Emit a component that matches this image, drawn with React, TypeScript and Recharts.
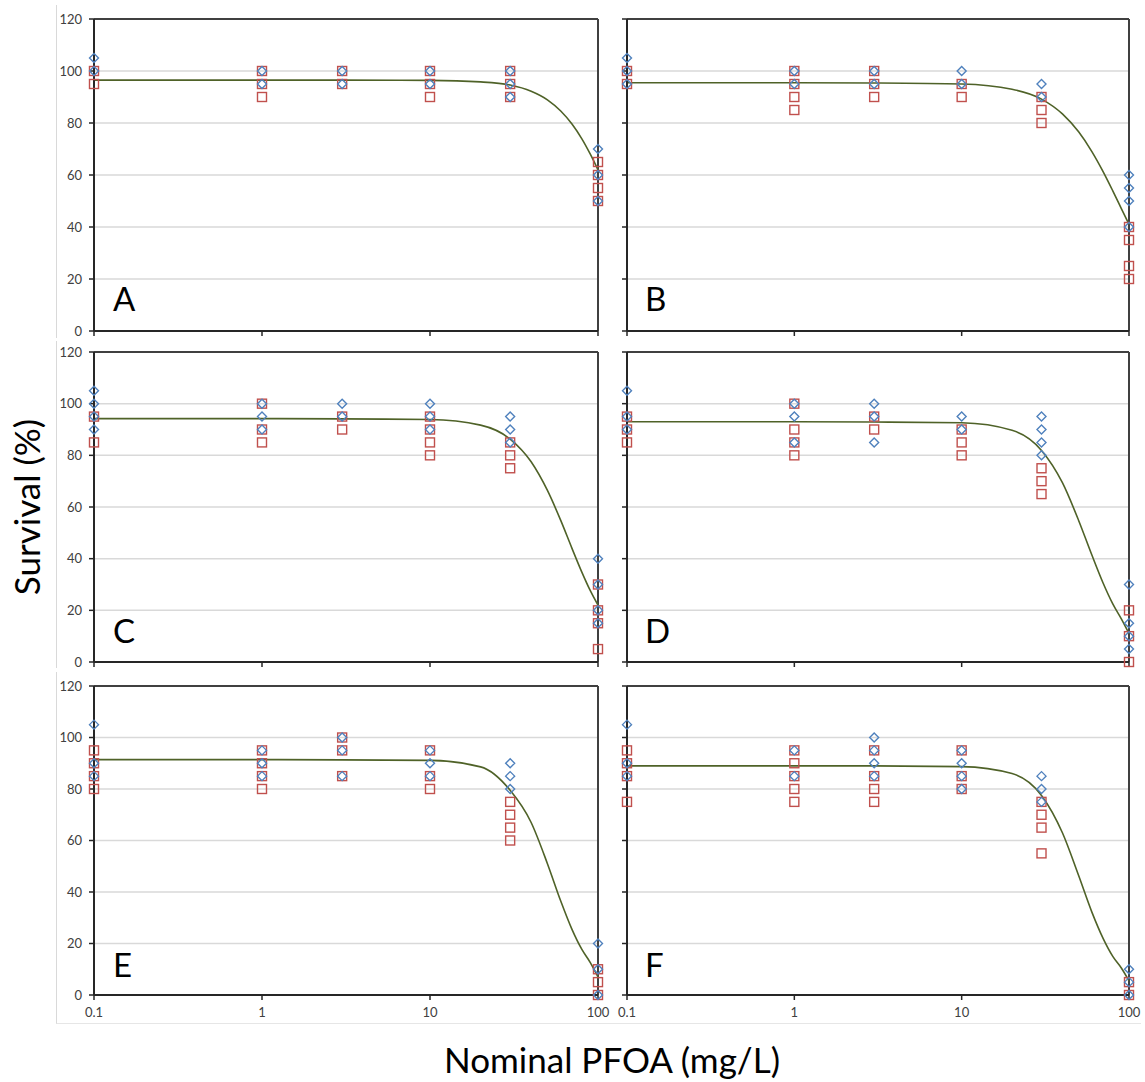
import { CartesianGrid, ComposedChart, Line, ReferenceLine, Scatter, XAxis, YAxis } from "recharts";

// dose groups and fitted-curve sample points (mg/L)
const doses = [0.1, 1, 3, 10, 30, 100];
const curveDoses = [0.1, 1, 3, 10, 20, 30, 40, 50, 60, 70, 80, 90, 100];
const xTicks = [0.1, 1, 10, 100];
const yTicks = [0, 20, 40, 60, 80, 100, 120];

// survival (%) per dose group: blue diamonds / red squares
const blueA = [[105, 100], [100, 95], [100, 95], [100, 95], [100, 95, 90], [70, 60, 50]];
const redA = [[100, 95], [100, 95, 90], [100, 95], [100, 95, 90], [100, 95, 90], [65, 60, 55, 50]];
const curveA = [96.5, 96.5, 96.5, 96.4, 95.8, 94.6, 92.2, 88.9, 84.6, 79.6, 74.0, 68.0, 62.0];

const blueB = [[105, 100, 95], [100, 95], [100, 95], [100, 95], [95, 90], [60, 55, 50, 40]];
const redB = [[100, 95], [100, 95, 90, 85], [100, 95, 90], [95, 90], [90, 85, 80], [40, 35, 25, 20]];
const curveB = [95.5, 95.5, 95.4, 95.0, 93.0, 89.2, 83.5, 76.6, 69.0, 61.3, 53.9, 47.1, 41.0];

const blueC = [[105, 100, 95, 90], [100, 95, 90], [100, 95], [100, 95, 90], [95, 90, 85], [40, 30, 20, 15]];
const redC = [[95, 85], [100, 90, 85], [95, 90], [95, 90, 85, 80], [85, 80, 75], [30, 20, 15, 5]];
const curveC = [94.2, 94.2, 94.1, 93.9, 91.7, 86.3, 77.5, 66.4, 54.8, 44.0, 34.9, 27.6, 22.0];

const blueD = [[105, 95, 90], [100, 95, 85], [100, 95, 85], [95, 90], [95, 90, 85, 80], [30, 15, 10, 5]];
const redD = [[95, 90, 85], [100, 90, 85, 80], [95, 90], [90, 85, 80], [75, 70, 65], [20, 10, 0]];
const curveD = [93.0, 93.0, 92.9, 92.6, 89.7, 81.9, 69.4, 54.8, 41.4, 30.6, 22.5, 16.7, 11.0];

const blueE = [[105, 90, 85], [95, 90, 85], [100, 95, 85], [95, 90, 85], [90, 85, 80], [20, 10, 0]];
const redE = [[95, 90, 85, 80], [95, 90, 85, 80], [100, 95, 85], [95, 85, 80], [75, 70, 65, 60], [10, 5, 0]];
const curveE = [91.4, 91.4, 91.3, 91.1, 88.6, 79.5, 67.0, 51.0, 36.5, 25.5, 17.8, 12.6, 7.0];

const blueF = [[105, 90, 85], [95, 85], [100, 95, 90, 85], [95, 90, 85, 80], [85, 80, 75], [10, 5, 0]];
const redF = [[95, 90, 85, 75], [95, 90, 85, 80, 75], [95, 85, 80, 75], [95, 85, 80], [75, 70, 65, 55], [5, 0]];
const curveF = [89.0, 89.0, 89.0, 88.7, 86.0, 77.5, 63.0, 46.4, 32.2, 22.0, 15.0, 10.5, 5.5];

const BLUE = "#4f81bd";
const RED = "#c0504d";
const GREEN = "#4f6228";
const FONT = "Lato, 'Open Sans', sans-serif";

const toPoints = (groups: number[][]) => groups.flatMap((ys, i) => ys.map((y) => ({ x: doses[i], y })));
const toCurve = (ys: number[]) => ys.map((y, i) => ({ x: curveDoses[i], y }));

const Diamond = (p: any) => {
  const { cx, cy } = p;
  const r = 4.5;
  return (
    <path
      d={`M${cx},${cy - r}L${cx + r},${cy}L${cx},${cy + r}L${cx - r},${cy}Z`}
      fill="none"
      stroke={BLUE}
      strokeWidth={1.4}
    />
  );
};

const Square = (p: any) => (
  <rect x={p.cx - 4.5} y={p.cy - 4.5} width={9} height={9} fill="none" stroke={RED} strokeWidth={1.4} />
);

const noTick = () => <g />;

interface PanelProps {
  plotLeft: number;
  plotTop: number;
  plotWidth: number;
  plotHeight: number;
  showY: boolean;
  showX: boolean;
  blue: number[][];
  red: number[][];
  curve: number[];
}

const M_TOP = 12;
const M_RIGHT = 15;
const Y_W = 44;

const Panel = ({ plotLeft, plotTop, plotWidth, plotHeight, showY, showX, blue, red, curve }: PanelProps) => {
  const xH = showX ? 30 : 10;
  const tickStyle = { fill: "#404040", fontSize: 13, fontFamily: FONT };
  return (
    <div style={{ position: "absolute", left: plotLeft - Y_W, top: plotTop - M_TOP }}>
      <ComposedChart
        width={Y_W + plotWidth + M_RIGHT}
        height={M_TOP + plotHeight + xH}
        margin={{ top: M_TOP, right: M_RIGHT, left: 0, bottom: 0 }}
      >
        <CartesianGrid vertical={false} stroke="#d9d9d9" strokeWidth={1.5} />
        <XAxis
          dataKey="x"
          type="number"
          scale="log"
          domain={[0.1, 100]}
          ticks={xTicks}
          interval={0}
          tickFormatter={(v) => String(v)}
          tick={showX ? tickStyle : noTick}
          tickSize={5}
          tickMargin={8}
          height={xH}
          axisLine={{ stroke: "#262626", strokeWidth: 2 }}
          tickLine={{ stroke: "#262626", strokeWidth: 1.5 }}
        />
        <YAxis
          dataKey="y"
          type="number"
          domain={[0, 120]}
          ticks={yTicks}
          interval={0}
          width={Y_W}
          tick={showY ? tickStyle : noTick}
          tickSize={5}
          tickMargin={7}
          axisLine={{ stroke: "#262626", strokeWidth: 2 }}
          tickLine={{ stroke: "#262626", strokeWidth: 1.5 }}
        />
        <ReferenceLine y={120} stroke="#404040" strokeWidth={2} />
        <ReferenceLine x={100} stroke="#404040" strokeWidth={2} />
        <Line
          data={toCurve(curve)}
          dataKey="y"
          type="monotone"
          stroke={GREEN}
          strokeWidth={1.6}
          dot={false}
          activeDot={false}
          isAnimationActive={false}
        />
        <Scatter data={toPoints(red)} dataKey="y" shape={Square} isAnimationActive={false} />
        <Scatter data={toPoints(blue)} dataKey="y" shape={Diamond} isAnimationActive={false} />
      </ComposedChart>
    </div>
  );
};

const letters = [
  { t: "A", x: 113, y: 311 },
  { t: "B", x: 645, y: 311 },
  { t: "C", x: 113, y: 643 },
  { t: "D", x: 645, y: 643 },
  { t: "E", x: 113, y: 977 },
  { t: "F", x: 645, y: 977 },
];

export default function App() {
  return (
    <div style={{ position: "absolute", left: 0, top: 0, width: 1145, height: 1082, background: "#fff", fontFamily: FONT }}>
      {/* light chart-area borders */}
      <div style={{ position: "absolute", left: 56, top: 5, height: 333, borderLeft: "1px solid #d9d9d9" }} />
      <div style={{ position: "absolute", left: 56, top: 341, height: 327, borderLeft: "1px solid #d9d9d9" }} />
      <div style={{ position: "absolute", left: 56, top: 672, width: 1084, height: 351, borderLeft: "1px solid #d9d9d9", borderBottom: "1px solid #e6e6e6" }} />

      <Panel plotLeft={94} plotTop={19} plotWidth={504} plotHeight={312} showY showX={false} blue={blueA} red={redA} curve={curveA} />
      <Panel plotLeft={627} plotTop={19} plotWidth={502} plotHeight={312} showY={false} showX={false} blue={blueB} red={redB} curve={curveB} />
      <Panel plotLeft={94} plotTop={352} plotWidth={504} plotHeight={310} showY showX={false} blue={blueC} red={redC} curve={curveC} />
      <Panel plotLeft={627} plotTop={352} plotWidth={502} plotHeight={310} showY={false} showX={false} blue={blueD} red={redD} curve={curveD} />
      <Panel plotLeft={94} plotTop={686} plotWidth={504} plotHeight={309} showY showX blue={blueE} red={redE} curve={curveE} />
      <Panel plotLeft={627} plotTop={686} plotWidth={502} plotHeight={309} showY={false} showX blue={blueF} red={redF} curve={curveF} />

      <svg width={1145} height={1082} style={{ position: "absolute", left: 0, top: 0, pointerEvents: "none" }}>
        {letters.map((l) => (
          <text key={l.t} x={l.x} y={l.y} fontSize={33} fontFamily={FONT} fill="#000">
            {l.t}
          </text>
        ))}
        <text x={40} y={507} transform="rotate(-90 40 507)" textAnchor="middle" fontSize={35} fontFamily={FONT} fill="#000">
          Survival (%)
        </text>
        <text x={612} y={1073} textAnchor="middle" fontSize={35} fontFamily={FONT} fill="#000">
          Nominal PFOA (mg/L)
        </text>
      </svg>
    </div>
  );
}
